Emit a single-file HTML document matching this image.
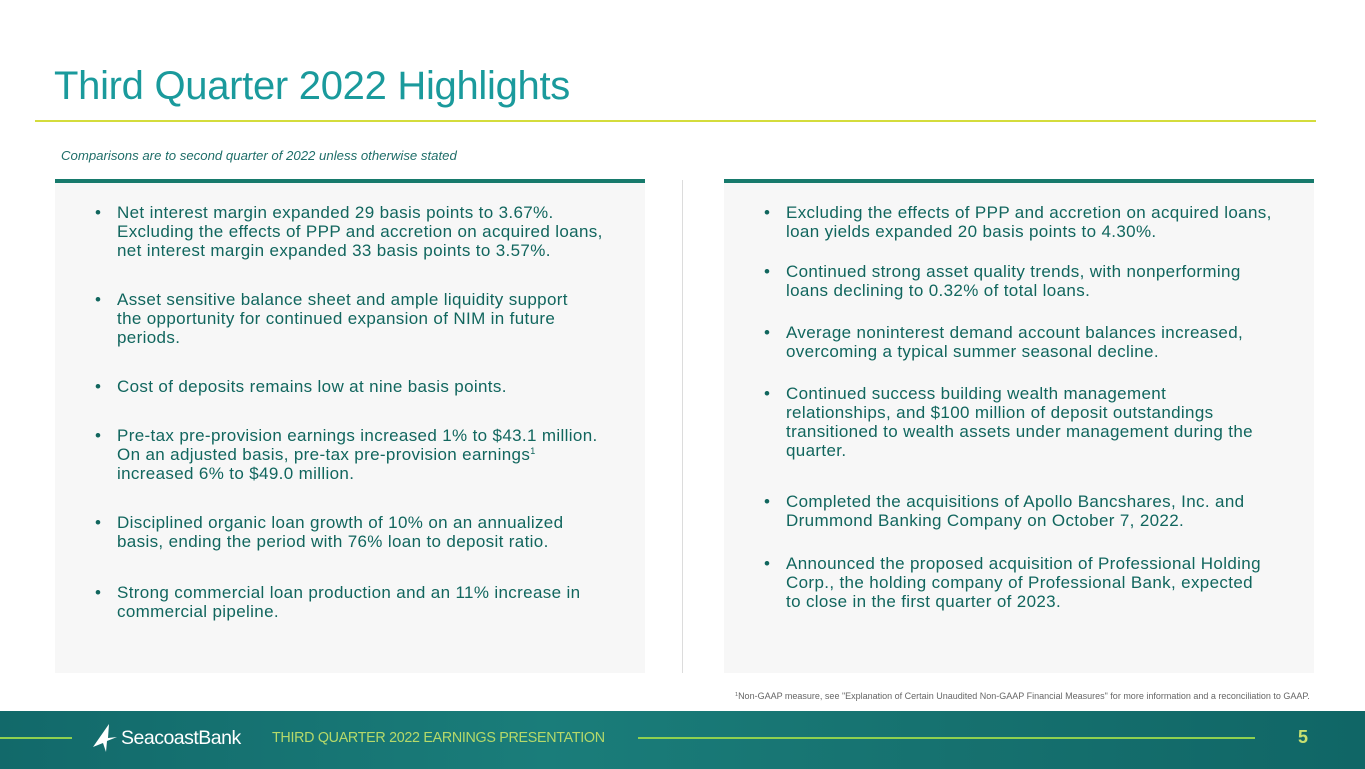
<!DOCTYPE html>
<html><head><meta charset="utf-8"><style>
*{margin:0;padding:0;box-sizing:border-box}
body{width:1365px;height:769px;position:relative;background:#fff;font-family:"Liberation Sans",sans-serif;overflow:hidden}
.abs{position:absolute}
.title{left:54px;top:64px;font-size:40px;color:#1a9a9c;letter-spacing:-0.3px;white-space:nowrap}
.rule{left:35px;top:120px;width:1281px;height:1.5px;background:#d4dc3c}
.sub{left:61px;top:148px;font-size:13.2px;font-style:italic;color:#1f6e69;white-space:nowrap}
.panel{top:179px;height:494px;width:590px;background:#f7f7f7;border-top:4px solid #177a6c}
.b{position:absolute;font-size:17px;letter-spacing:0.35px;line-height:19px;color:#11665e;white-space:nowrap}
.b::before{content:"•";position:absolute;left:-22px;top:0;letter-spacing:0}
sup{font-size:9px;vertical-align:6px;line-height:0}
.foot{left:0;top:711px;width:1365px;height:58px;background:linear-gradient(90deg,#12696a,#1a7d7a 40%,#16716f 70%,#106666)}
</style></head><body>
<div class="abs title">Third Quarter 2022 Highlights</div>
<div class="abs rule"></div>
<div class="abs sub">Comparisons are to second quarter of 2022 unless otherwise stated</div>
<div class="abs panel" style="left:55px"></div>
<div class="abs panel" style="left:724px"></div>
<div class="abs" style="left:682px;top:180px;width:1px;height:493px;background:#dcdcdc"></div>

<div class="b" style="left:117px;top:203px">Net interest margin expanded 29 basis points to 3.67%.<br>Excluding the effects of PPP and accretion on acquired loans,<br>net interest margin expanded 33 basis points to 3.57%.</div>
<div class="b" style="left:117px;top:290px">Asset sensitive balance sheet and ample liquidity support<br>the opportunity for continued expansion of NIM in future<br>periods.</div>
<div class="b" style="left:117px;top:377px">Cost of deposits remains low at nine basis points.</div>
<div class="b" style="left:117px;top:426px">Pre-tax pre-provision earnings increased 1% to $43.1 million.<br>On an adjusted basis, pre-tax pre-provision earnings<sup>1</sup><br>increased 6% to $49.0 million.</div>
<div class="b" style="left:117px;top:513px">Disciplined organic loan growth of 10% on an annualized<br>basis, ending the period with 76% loan to deposit ratio.</div>
<div class="b" style="left:117px;top:583px">Strong commercial loan production and an 11% increase in<br>commercial pipeline.</div>

<div class="b" style="left:786px;top:203px">Excluding the effects of PPP and accretion on acquired loans,<br>loan yields expanded 20 basis points to 4.30%.</div>
<div class="b" style="left:786px;top:262px">Continued strong asset quality trends, with nonperforming<br>loans declining to 0.32% of total loans.</div>
<div class="b" style="left:786px;top:323px">Average noninterest demand account balances increased,<br>overcoming a typical summer seasonal decline.</div>
<div class="b" style="left:786px;top:384px">Continued success building wealth management<br>relationships, and $100 million of deposit outstandings<br>transitioned to wealth assets under management during the<br>quarter.</div>
<div class="b" style="left:786px;top:492px">Completed the acquisitions of Apollo Bancshares, Inc. and<br>Drummond Banking Company on October 7, 2022.</div>
<div class="b" style="left:786px;top:554px">Announced the proposed acquisition of Professional Holding<br>Corp., the holding company of Professional Bank, expected<br>to close in the first quarter of 2023.</div>

<div class="abs" style="left:735px;top:691px;font-size:9px;color:#666;white-space:nowrap"><sup style="font-size:5.5px;vertical-align:3px">1</sup>Non-GAAP measure, see "Explanation of Certain Unaudited Non-GAAP Financial Measures" for more information and a reconciliation to GAAP.</div>

<div class="abs foot"></div>
<div class="abs" style="left:0;top:737px;width:72px;height:2px;background:#8fd14f"></div>
<div class="abs" style="left:638px;top:737px;width:617px;height:2px;background:#8fd14f"></div>
<svg class="abs" style="left:89px;top:723px" width="30" height="30" viewBox="0 0 30 30"><path d="M20 1 L4 24 L14 20 L17 29 L18 18 L28 14 L19 15 Z" fill="#fff"/></svg>
<div class="abs" style="left:121px;top:727px;font-size:19.5px;color:#fff;letter-spacing:-0.5px;white-space:nowrap">SeacoastBank</div>
<div class="abs" style="left:272px;top:730px;font-size:14.3px;color:#b5d96a;white-space:nowrap;letter-spacing:-0.3px">THIRD QUARTER 2022 EARNINGS PRESENTATION</div>
<div class="abs" style="left:1298px;top:727px;font-size:18px;font-weight:bold;color:#c8e070">5</div>
</body></html>
